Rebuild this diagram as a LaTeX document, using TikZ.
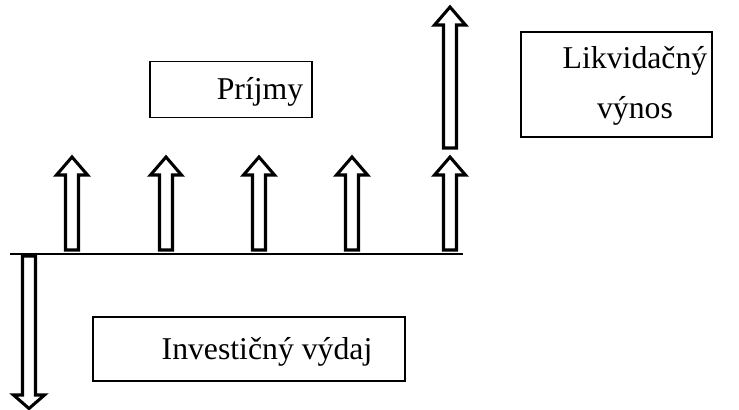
\documentclass[tikz,border=0pt]{standalone}
\usepackage{fontspec}
\setmainfont{Liberation Serif}
\newcommand{\blockup}[3]{% x, bottom y, tip y
  \draw[blockarr] (#1-6.5,#2) -- (#1-6.5,#3+18) -- (#1-15.5,#3+18) -- (#1,#3) -- (#1+15.5,#3+18) -- (#1+6.5,#3+18) -- (#1+6.5,#2) -- cycle;}
\begin{document}
\begin{tikzpicture}[x=0.75pt,y=-0.75pt,
  blockarr/.style={draw=black,fill=white,line width=2.3pt,line join=miter,miter limit=10},
  textbox/.style={draw=black,line width=0.8pt,inner sep=0pt},
  lbl/.style={inner sep=0pt,font=\fontsize{23.8}{36}\selectfont,align=center},
  baseline/.style={line width=1.5pt}]
\useasboundingbox (0,0) rectangle (739,410);
% boxes
\node[textbox,minimum width=162*0.75pt,minimum height=56*0.75pt] (prijmy) at (231,89.5) {};
\node[lbl] (prijmyT) at (260,92) {Príjmy};
\node[textbox,minimum width=191*0.75pt,minimum height=105*0.75pt] (likv) at (616.5,84.5) {};
\node[lbl] (likvT) at (635,86) {Likvidačný\\[2pt]výnos};
\node[textbox,minimum width=312*0.75pt,minimum height=64*0.75pt] (inv) at (249,349) {};
\node[lbl] (invT) at (267,352) {Investičný výdaj};
% time axis
\coordinate (axL) at (10,254);
\coordinate (axR) at (463,254);
\draw[baseline] (axL) -- (axR);
% income arrows
\blockup{72}{250}{157}
\blockup{166}{250}{157}
\blockup{259}{250}{157}
\blockup{352}{250}{157}
\blockup{450}{250}{157}
\blockup{450}{148}{7}
% investment arrow (down)
\draw[blockarr] (29-6.5,256) -- (29-6.5,395) -- (29-15.5,395) -- (29,408.5) -- (29+15.5,395) -- (29+6.5,395) -- (29+6.5,256) -- cycle;
\end{tikzpicture}
\end{document}
